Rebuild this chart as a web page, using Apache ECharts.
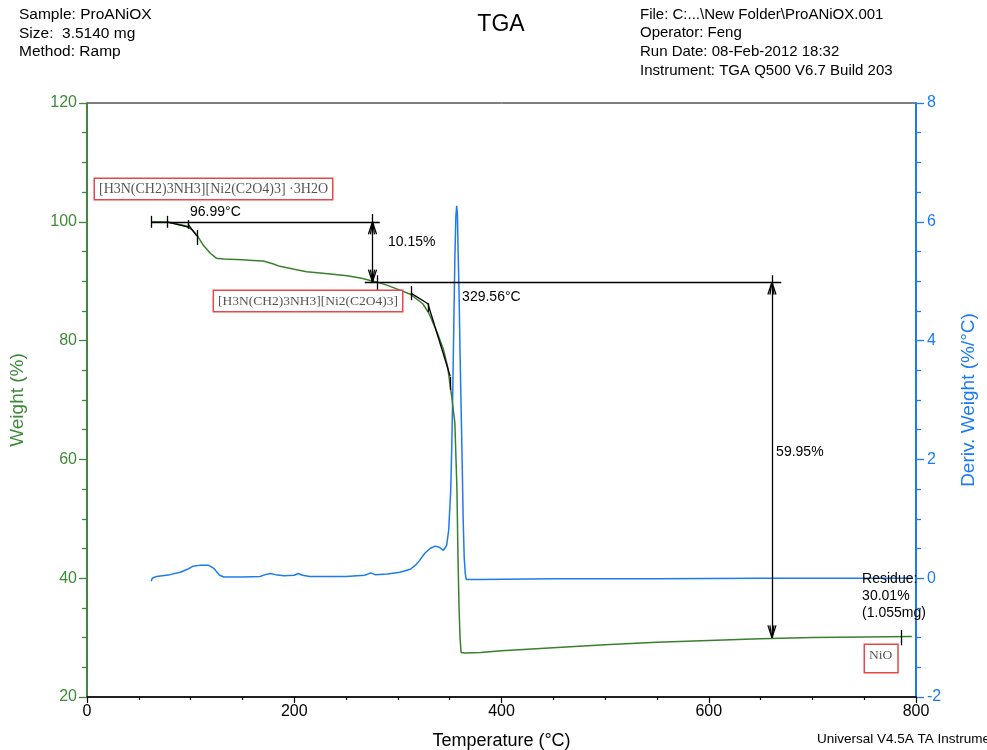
<!DOCTYPE html>
<html>
<head>
<meta charset="utf-8">
<script src="https://cdn.jsdelivr.net/npm/echarts@6/dist/echarts.min.js"></script>
<style>html,body{margin:0;padding:0;background:#fff}#c{width:987px;height:750px}</style>
</head>
<body>
<div id="c"></div>
<script>
// ---- Weight (%) curve ----
const weightTemp = [62, 70, 77, 85, 96, 101, 106, 112, 119, 125, 132, 138, 150, 160, 170, 180, 186, 200, 212, 230, 251, 265, 276, 280, 290, 302, 312, 318, 324, 330, 338, 344, 348, 352, 355, 357, 358, 359, 360, 361, 365, 380, 400, 450, 500, 550, 600, 650, 700, 750, 796];
const weightPct  = [100.0, 100.0, 99.95, 99.7, 99.3, 98.7, 97.8, 96.1, 94.7, 93.85, 93.75, 93.7, 93.6, 93.5, 93.4, 92.9, 92.5, 92.0, 91.6, 91.3, 90.9, 90.5, 90.0, 89.85, 89.3, 88.5, 87.8, 87.0, 86.2, 84.6, 81.3, 78.5, 75.6, 70.5, 66.1, 55.0, 43.6, 35.2, 30.0, 27.5, 27.4, 27.5, 27.8, 28.3, 28.8, 29.2, 29.5, 29.8, 30.0, 30.1, 30.2];
// ---- Deriv. Weight (%/°C) curve ----
const derivTemp = [62, 63, 67, 80, 90, 97, 102, 110, 117, 122, 128, 132, 150, 167, 172, 177, 182, 190, 200, 204, 208, 215, 250, 268, 274, 278, 290, 302, 312, 317, 321, 326, 331, 336, 340, 344, 347, 349, 351, 352, 353, 354, 355, 356, 356.8, 357.5, 358, 359, 360, 361, 362, 363, 364, 365, 366, 380, 450, 550, 650, 796];
const derivVal  = [-0.05, 0.0, 0.03, 0.06, 0.1, 0.15, 0.2, 0.22, 0.22, 0.17, 0.05, 0.02, 0.02, 0.03, 0.06, 0.08, 0.06, 0.04, 0.05, 0.08, 0.05, 0.03, 0.03, 0.05, 0.09, 0.06, 0.07, 0.1, 0.15, 0.22, 0.3, 0.42, 0.5, 0.54, 0.52, 0.47, 0.55, 0.8, 1.48, 2.2, 3.17, 4.3, 5.4, 6.1, 6.27, 6.1, 5.6, 4.85, 3.8, 2.9, 2.0, 1.0, 0.35, 0.08, -0.02, -0.02, -0.01, -0.01, 0.0, 0.0];
// ---- axis ticks ----
const xTicks = [0, 200, 400, 600, 800];
const weightTicks = [20, 40, 60, 80, 100, 120];
const derivTicks = [-2, 0, 2, 4, 6, 8];
// ---- annotation values ----
const onset1Label = '96.99°C';
const onset2Label = '329.56°C';
const step1Label = '10.15%';
const step2Label = '59.95%';
const residueLines = ['Residue:', '30.01%', '(1.055mg)'];

const GREEN = '#3a7f2e', GREEN_T = '#3f8a3a', BLUE = '#1c7bf0';
const chart = echarts.init(document.getElementById('c'), null, {renderer: 'canvas'});

const wData = weightTemp.map((t, i) => [t, weightPct[i]]);
const dData = derivTemp.map((t, i) => [t, derivVal[i]]);

function seg(a, b) { return [{coord: a}, {coord: b}]; }
// arrowhead: tip at (t,w); dir +1 = pointing up, -1 = pointing down
function arrow(t, w, dir) {
  const dt = 3.9, dw = 2.1 * dir;
  return [seg([t, w], [t - dt, w - dw]), seg([t, w], [t + dt, w - dw]),
          seg([t, w], [t - dt * 0.5, w - dw]), seg([t, w], [t + dt * 0.5, w - dw])];
}
const annot = [
  // step 1 construction
  seg([62, 100], [282.5, 100]),
  seg([62, 101], [62, 99]),
  seg([77, 101], [77, 99]),
  seg([77, 100], [97.5, 99.1]),
  seg([97.5, 100.3], [97.5, 98.8]),
  seg([97.5, 99.6], [106, 97.6]),
  seg([106, 98.6], [106, 96.1]),
  // 10.15% dimension
  seg([275.5, 101.3], [275.5, 89.85]),
  ...arrow(275.5, 100, 1),
  ...arrow(275.5, 89.85, -1),
  seg([280, 91.0], [280, 88.5]),
  // step 2 construction
  seg([268, 89.85], [670, 89.85]),
  seg([312.5, 89.2], [312.5, 86.8]),
  seg([312.5, 88.0], [329, 86.2]),
  seg([329, 86.3], [329, 84.8]),
  seg([329, 86.2], [350.5, 74.0]),
  seg([350.5, 73.9], [350.5, 71.7]),
  // 59.95% dimension
  seg([661, 91.0], [661, 29.95]),
  ...arrow(661, 89.85, 1),
  ...arrow(661, 29.95, -1),
  // residue marker
  seg([786, 31.3], [786, 28.7])
];

const F = '"Liberation Sans", Arial, sans-serif';
const SERIF = '"Liberation Serif", "Times New Roman", serif';

chart.setOption({
  animation: false,
  backgroundColor: '#fff',
  grid: {left: 87, right: 71, top: 103, bottom: 53, containLabel: false, outerBoundsMode: 'none',
    show: true, borderColor: '#000', borderWidth: 1, backgroundColor: 'transparent'},
  xAxis: {
    type: 'value', min: xTicks[0], max: xTicks[xTicks.length - 1], interval: 200,
    name: 'Temperature (°C)', nameLocation: 'middle', nameGap: 35,
    nameTextStyle: {fontFamily: 'Liberation Sans', fontSize: 18, color: '#000'},
    axisLine: {onZero: false, lineStyle: {color: '#000', width: 1.5}},
    axisTick: {length: 6, lineStyle: {color: '#000', width: 1.2}},
    minorTick: {show: true, splitNumber: 4, length: 3, lineStyle: {color: '#000', width: 1.2}},
    axisLabel: {margin: 7, fontFamily: 'Liberation Sans', fontSize: 16, color: '#000'},
    splitLine: {show: false}
  },
  yAxis: [{
    type: 'value', min: 20, max: 120, interval: 20, position: 'left',
    name: 'Weight (%)', nameLocation: 'middle', nameGap: 60, nameRotate: 90,
    nameTextStyle: {fontFamily: 'Liberation Sans', fontSize: 19, color: GREEN_T},
    axisLine: {show: true, onZero: false, lineStyle: {color: GREEN_T, width: 2}},
    axisTick: {length: 8, lineStyle: {color: GREEN_T, width: 1.3}},
    minorTick: {show: true, splitNumber: 4, length: 5, lineStyle: {color: GREEN_T, width: 1.3}},
    axisLabel: {margin: 10, fontFamily: 'Liberation Sans', fontSize: 16, color: GREEN_T},
    splitLine: {show: false}
  }, {
    type: 'value', min: -2, max: 8, interval: 2, position: 'right',
    name: 'Deriv. Weight (%/°C)', nameLocation: 'middle', nameGap: 43, nameRotate: 90,
    nameTextStyle: {fontFamily: 'Liberation Sans', fontSize: 19, color: BLUE},
    axisLine: {show: true, onZero: false, lineStyle: {color: BLUE, width: 2}},
    axisTick: {length: 8, lineStyle: {color: BLUE, width: 1.3}},
    minorTick: {show: true, splitNumber: 4, length: 5, lineStyle: {color: BLUE, width: 1.3}},
    axisLabel: {margin: 11, fontFamily: 'Liberation Sans', fontSize: 16, color: BLUE},
    splitLine: {show: false}
  }],
  series: [{
    type: 'line', name: 'Weight', yAxisIndex: 0, data: wData, showSymbol: false, symbol: 'none',
    lineStyle: {color: GREEN, width: 1.5}, z: 3
  }, {
    type: 'line', name: 'Deriv', yAxisIndex: 1, data: dData, showSymbol: false, symbol: 'none',
    lineStyle: {color: BLUE, width: 1.5}, z: 2
  }, {
    type: 'line', name: 'annot', yAxisIndex: 0, data: [], z: 4,
    markLine: {silent: true, animation: false, symbol: ['none', 'none'], label: {show: false},
      lineStyle: {color: '#000', width: 1.3, type: 'solid'}, emphasis: {disabled: true}, data: annot}
  }]
});

function px(t, w) { return chart.convertToPixel({xAxisIndex: 0, yAxisIndex: 0}, [t, w]); }
function txt(p, text, size, extra) {
  return {type: 'text', x: p[0], y: p[1], z: 10,
    style: Object.assign({text: text, font: size + 'px ' + F, fill: '#000', align: 'left', verticalAlign: 'middle'}, extra || {})};
}
function box(p, text, size, pad) {
  return {type: 'text', x: p[0], y: p[1], z: 10,
    style: {text: text, font: size + 'px ' + SERIF, fill: '#555', align: 'left', verticalAlign: 'top',
      borderColor: '#e8474a', borderWidth: 1.5, padding: pad, backgroundColor: '#fff'}};
}
const g = [
  txt([19, 15], 'Sample: ProANiOX', 15.5),
  txt([19, 34], 'Size:  3.5140 mg', 15.5),
  txt([19, 52], 'Method: Ramp', 15.5),
  txt([640, 15], 'File: C:...\\New Folder\\ProANiOX.001', 15),
  txt([640, 33], 'Operator: Feng', 15),
  txt([640, 52], 'Run Date: 08-Feb-2012 18:32', 15),
  txt([640, 71], 'Instrument: TGA Q500 V6.7 Build 203', 15),
  txt([501, 25], 'TGA', 23, {align: 'center'}),
  txt([817, 739], 'Universal V4.5A TA Instruments', 13.5),
  txt(px(99.4, 101.6), onset1Label, 14),
  txt(px(290.5, 96.6), step1Label, 14),
  txt(px(362, 87.3), onset2Label, 14),
  txt(px(665, 61.2), step2Label, 14),
  txt(px(748, 39.9), residueLines[0], 14),
  txt(px(748, 37.0), residueLines[1], 14),
  txt(px(748, 34.2), residueLines[2], 14),
  box(px(7.7, 107.2), '[H3N(CH2)3NH3][Ni2(C2O4)3] ·3H2O', 14, [3, 4, 3, 4]),
  box(px(122.6, 88.35), '[H3N(CH2)3NH3][Ni2(C2O4)3]', 13.5, [3, 4, 3, 4]),
  box(px(750.8, 28.75), 'NiO', 13.5, [3, 5, 10, 4])
];
chart.setOption({graphic: g});
</script>
</body>
</html>
